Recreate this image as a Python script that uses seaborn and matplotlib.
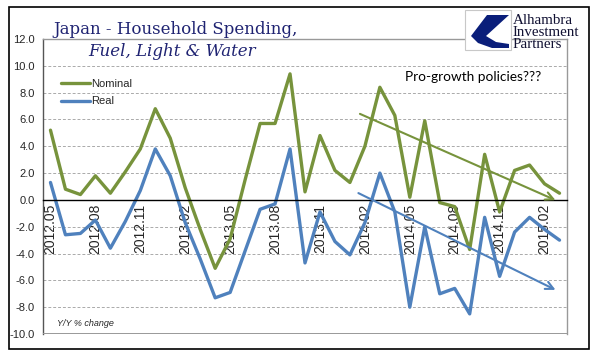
import numpy as np
import pandas as pd
import seaborn as sns
import matplotlib
matplotlib.use('Agg')
from matplotlib import pyplot as plt
from matplotlib.lines import Line2D
from matplotlib.patches import Rectangle, Polygon

# monthly categories 2012.05 .. 2015.03
months = ['2012.05', '2012.06', '2012.07', '2012.08', '2012.09', '2012.10', '2012.11', '2012.12',
          '2013.01', '2013.02', '2013.03', '2013.04', '2013.05', '2013.06', '2013.07', '2013.08',
          '2013.09', '2013.10', '2013.11', '2013.12', '2014.01', '2014.02', '2014.03', '2014.04',
          '2014.05', '2014.06', '2014.07', '2014.08', '2014.09', '2014.10', '2014.11', '2014.12',
          '2015.01', '2015.02', '2015.03']

nominal = [5.2, 0.8, 0.4, 1.8, 0.5, 2.1, 3.8, 6.8,
           4.6, 0.9, -2.2, -5.1, -2.9, 1.5, 5.7, 5.7,
           9.4, 0.6, 4.8, 2.2, 1.3, 4.0, 8.4, 6.3,
           0.2, 5.9, -0.2, -0.5, -3.7, 3.4, -0.9, 2.2,
           2.6, 1.2, 0.5]

real = [1.3, -2.6, -2.5, -1.5, -3.6, -1.6, 0.7, 3.8,
        1.8, -1.7, -4.4, -7.3, -6.9, -3.8, -0.7, -0.3,
        3.8, -4.7, -0.9, -3.1, -4.1, -1.7, 2.0, -0.9,
        -8.0, -2.0, -7.0, -6.6, -8.5, -1.3, -5.7, -2.4,
        -1.3, -2.2, -3.0]

# trend arrows (start month index, start value, end month index, end value)
nominal_trend = [20.5, 6.5, 33.9, -0.1]
real_trend = [20.4, 0.6, 33.9, -6.8]

green = '#77933C'
blue = '#4F81BD'
navy = '#1F2372'

sns.set_style('white')
plt.rcParams['font.family'] = ['Liberation Sans', 'DejaVu Sans']

df = pd.DataFrame({'idx': list(range(len(months))) * 2,
                   'value': nominal + real,
                   'series': ['Nominal'] * len(months) + ['Real'] * len(months)})

fig = plt.figure(figsize=(5.96, 3.61), dpi=100)
ax = fig.add_axes([43 / 596, 1 - 334 / 361, 524 / 596, 295 / 361])

sns.lineplot(data=df, x='idx', y='value', hue='series', palette={'Nominal': green, 'Real': blue},
             linewidth=2.4, legend=False, ax=ax)

ax.set_xlim(-0.5, len(months) - 0.5)
ax.set_ylim(-10, 12)
ax.set_yticks(np.arange(-10, 13, 2))
ax.set_yticklabels(['%.1f' % v for v in np.arange(-10, 13, 2)], fontsize=8)
ax.set_xticks(np.arange(0, len(months), 3))
ax.set_xticklabels(months[::3], fontsize=6.6)
ax.set_xticks(np.arange(2.5, len(months), 3), minor=True)
ax.tick_params(axis='x', which='major', length=0, pad=3, labelrotation=90)
ax.tick_params(axis='x', which='minor', length=4, direction='out', color='black', width=0.8)
ax.tick_params(axis='y', length=3, direction='out', color='black', width=0.8, pad=3)
ax.set_xlabel('')
ax.set_ylabel('')

ax.yaxis.grid(True, color='#aaaaaa', linestyle=(0, (3, 2)), linewidth=0.7)
ax.xaxis.grid(False)

ax.spines['bottom'].set_position(('data', 0))
ax.spines['bottom'].set_color('black')
ax.spines['bottom'].set_linewidth(1.0)
ax.spines['left'].set_color('#555555')
ax.spines['left'].set_linewidth(1.0)
for s in ['top', 'right']:
    ax.spines[s].set_color('#999999')
    ax.spines[s].set_linewidth(1.0)
ax.axhline(-10, color='#999999', linewidth=1.4, zorder=3)

# trend arrows
ax.annotate('', xy=(nominal_trend[2], nominal_trend[3]), xytext=(nominal_trend[0], nominal_trend[1]),
            arrowprops=dict(arrowstyle='->', color=green, lw=1.5, mutation_scale=14))
ax.annotate('', xy=(real_trend[2], real_trend[3]), xytext=(real_trend[0], real_trend[1]),
            arrowprops=dict(arrowstyle='->', color=blue, lw=1.5, mutation_scale=14))

# legend
handles = [Line2D([], [], color=green, lw=2.4), Line2D([], [], color=blue, lw=2.4)]
ax.legend(handles, ['Nominal', 'Real'], loc='upper left', bbox_to_anchor=(0.02, 0.89),
          frameon=False, fontsize=8, handlelength=2.6, handletextpad=0.1, labelspacing=0.65,
          borderpad=0.2)

fig.text(405 / 596, 1 - 77 / 361, 'Pro-growth policies???', fontsize=9.8, family=['Lato', 'DejaVu Sans'],
         va='center', ha='left', color='black')
fig.text(57 / 596, 1 - 324 / 361, 'Y/Y % change', fontsize=6.5, style='italic', va='center', ha='left')

# title
fig.text(176 / 596, 1 - 29 / 361, 'Japan - Household Spending,', fontsize=12, color=navy,
         family=['DejaVu Serif'], ha='center', va='center')
fig.text(172 / 596, 1 - 52 / 361, 'Fuel, Light & Water', fontsize=12, color=navy, style='italic',
         family=['DejaVu Serif'], ha='center', va='center')

# logo
W, H = 596.0, 361.0
fig.patches.append(Rectangle((465 / W, 1 - 50 / H), 46 / W, 40 / H, transform=fig.transFigure,
                             facecolor='white', edgecolor='#c8c8c8', lw=0.8, zorder=5))
swoosh = [(487, 15), (509, 15), (486, 36), (496, 42), (509, 44), (509, 48), (492, 48),
          (478, 43), (471, 36)]
fig.patches.append(Polygon([(x / W, 1 - y / H) for x, y in swoosh], closed=True,
                           transform=fig.transFigure, facecolor='#0a1e7a', edgecolor='none', zorder=6))
for i, word in enumerate(['Alhambra', 'Investment', 'Partners']):
    fig.text(513 / W, 1 - (20 + 12 * i) / H, word, fontsize=10.8, family=['Liberation Serif'],
             color='#111133', ha='left', va='center')

# outer frame
fig.patches.append(Rectangle((9 / W, 1 - 349 / H), 580 / W, 342 / H, transform=fig.transFigure,
                             facecolor='none', edgecolor='black', lw=1.2, zorder=10))

fig.savefig('out.png', dpi=100)
